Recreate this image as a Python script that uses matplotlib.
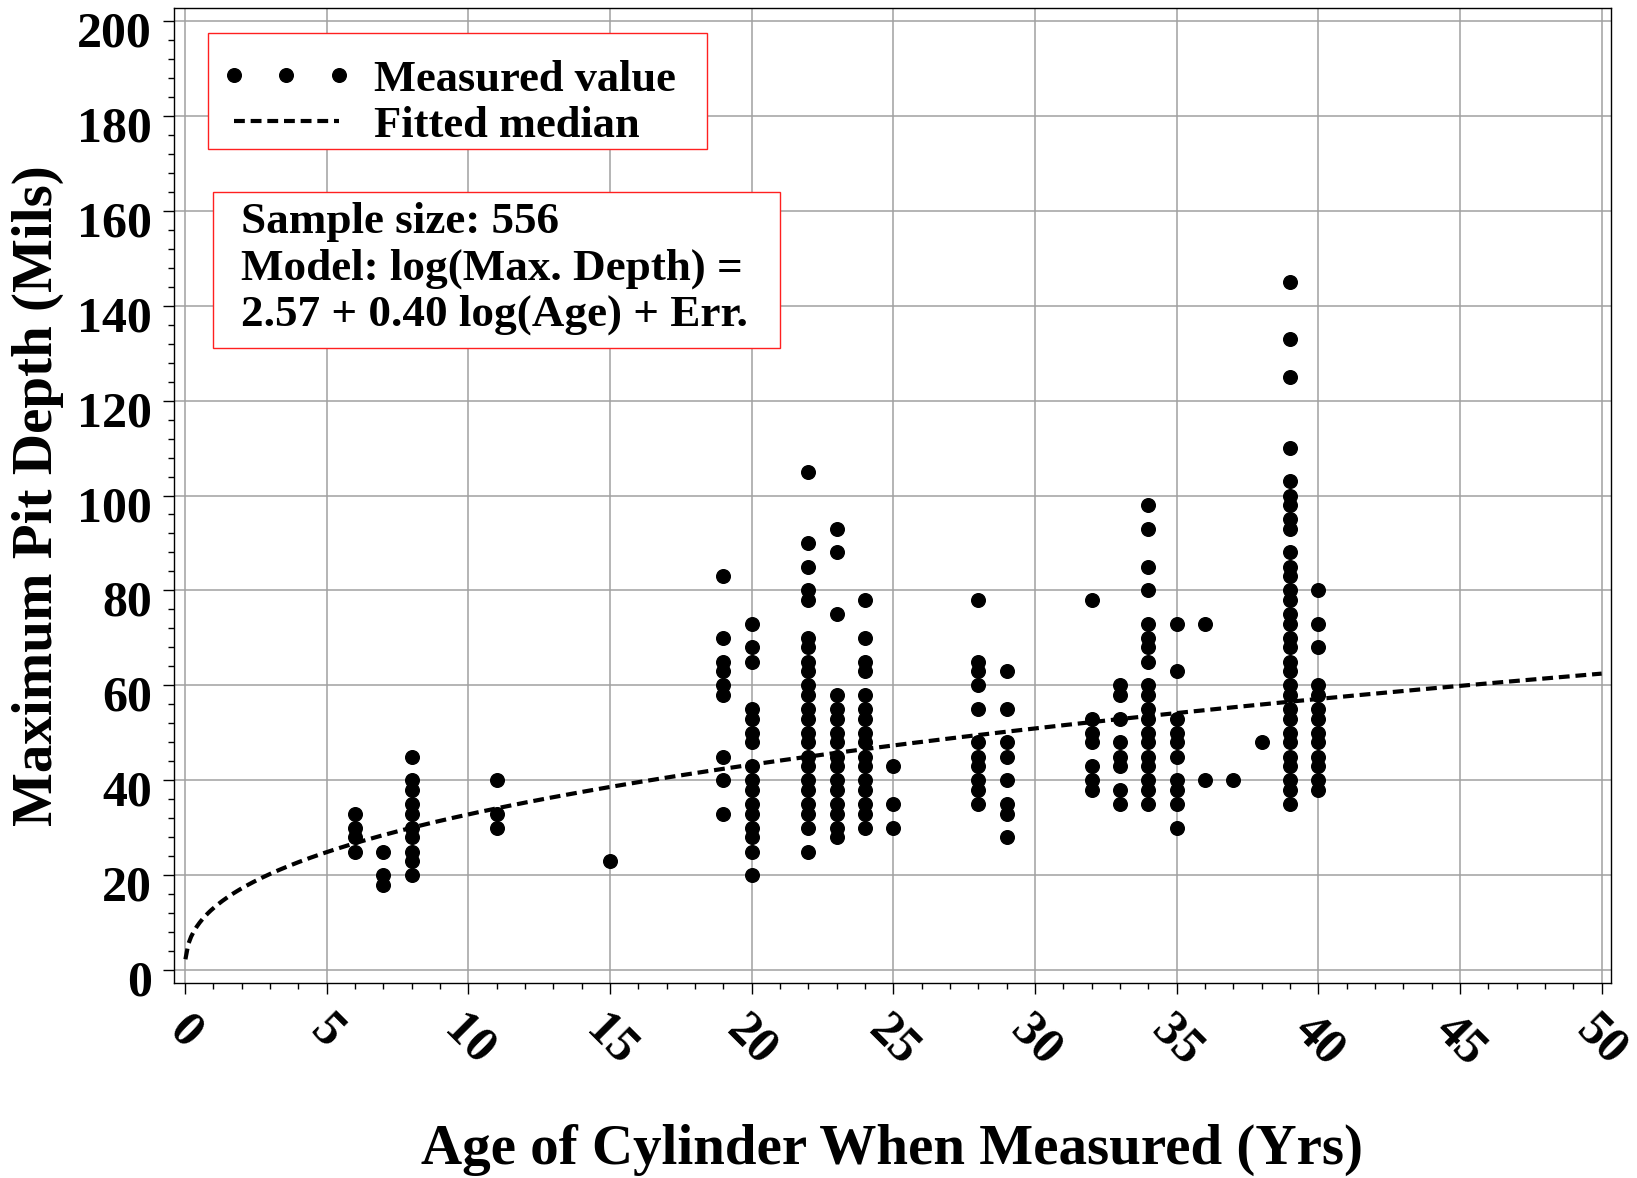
import numpy as np
import matplotlib
matplotlib.use("Agg")
import matplotlib.pyplot as plt
from matplotlib.patches import Rectangle
import matplotlib.transforms as mtrans

# Measured maximum pit depth (mils) for each cylinder age (years)
depths_by_age = {
    6: [33, 30, 28, 25],
    7: [25, 20, 18],
    8: [45, 40, 38, 35, 33, 30, 28, 25, 23, 20],
    11: [40, 33, 30],
    15: [23],
    19: [83, 70, 65, 63, 60, 58, 45, 40, 33],
    20: [73, 68, 65, 55, 53, 50, 48, 43, 40, 38, 35, 33, 30, 28, 25, 20],
    22: [105, 90, 85, 80, 78, 70, 68, 65, 63, 60, 58, 55, 53, 50, 48, 45, 43,
         40, 38, 35, 33, 30, 25],
    23: [93, 88, 75, 58, 55, 53, 50, 48, 45, 43, 40, 38, 35, 33, 30, 28],
    24: [78, 70, 65, 63, 58, 55, 53, 50, 48, 45, 43, 40, 38, 35, 33, 30],
    25: [43, 35, 30],
    28: [78, 65, 63, 60, 55, 48, 45, 43, 40, 38, 35],
    29: [63, 55, 48, 45, 40, 35, 33, 28],
    32: [78, 53, 50, 48, 43, 40, 38],
    33: [60, 58, 53, 48, 45, 43, 38, 35],
    34: [98, 93, 85, 80, 73, 70, 68, 65, 60, 58, 55, 53, 50, 48, 45, 43, 40,
         38, 35],
    35: [73, 63, 53, 50, 48, 45, 40, 38, 35, 30],
    36: [73, 40],
    37: [40],
    38: [48],
    39: [145, 133, 125, 110, 103, 100, 98, 95, 93, 88, 85, 83, 80, 78, 75, 73,
         70, 68, 65, 63, 60, 58, 55, 53, 50, 48, 45, 43, 40, 38, 35],
    40: [80, 73, 68, 60, 58, 55, 53, 50, 48, 45, 43, 40, 38],
}
age = [a for a, ds in depths_by_age.items() for _ in ds]
depth = [d for ds in depths_by_age.values() for d in ds]

# fitted model: log(depth) = 2.57 + 0.40 log(age)
intercept = 2.57
slope = 0.40
sample_size = 556

x_ticks = np.arange(0, 51, 5)
y_ticks = np.arange(0, 201, 20)

plt.rcParams['font.family'] = ['Liberation Serif', 'DejaVu Serif']
plt.rcParams['font.weight'] = 'bold'

W, H = 1637, 1178
fig = plt.figure(figsize=(W / 100, H / 100), dpi=100)
ax = fig.add_axes([174 / W, 1 - 983 / H, (1611 - 174) / W, (983 - 8) / H])

age_fit = np.linspace(0.013, 50, 500)
median_fit = np.exp(intercept + slope * np.log(age_fit))

pts, = ax.plot(age, depth, 'o', color='black', ms=9.8, ls='none',
               label='Measured value', zorder=3)
fit, = ax.plot(age_fit, median_fit, color='black', lw=3.0,
               ls=(0, (2.6, 1.4)), label='Fitted median', zorder=2)

ax.set_xlim(-0.39, 50.33)
ax.set_ylim(-2.7, 202.7)
ax.set_xticks(x_ticks)
ax.set_xticks(np.arange(0, 51, 1), minor=True)
ax.set_yticks(y_ticks)
ax.set_yticks(np.arange(0, 201, 4), minor=True)
ax.set_xticklabels([str(v) for v in x_ticks], rotation=-45, ha='center',
                   va='top')
ax.tick_params(axis='both', which='major', direction='out', length=8,
               width=1, labelsize=36)
ax.tick_params(axis='both', which='minor', direction='out', length=4.5,
               width=1)
ax.tick_params(axis='x', which='major', pad=9)
ax.tick_params(axis='y', which='major', pad=8)
ax.grid(True, which='major', color='#a0a0a0', lw=1.1)
ax.set_axisbelow(True)
for s in ax.spines.values():
    s.set_linewidth(1.0)

# y tick labels sit a little below their grid lines in the original
off = mtrans.ScaledTranslation(0, -8 / 100, fig.dpi_scale_trans)
for lab in ax.get_yticklabels():
    lab.set_transform(lab.get_transform() + off)

ax.set_xlabel('Age of Cylinder When Measured (Yrs)', fontsize=41,
              fontweight='bold')
ax.set_ylabel('Maximum Pit Depth (Mils)', fontsize=41, fontweight='bold')
ax.xaxis.set_label_coords(0.5, -0.171)
ax.xaxis.label.set_verticalalignment('center')
ax.yaxis.set_label_coords(-0.0946, 0.5)
ax.yaxis.label.set_verticalalignment('center')

# legend frame drawn separately so the red box matches the original size
fig.add_artist(Rectangle((208 / W, 1 - 149 / H), (707 - 208) / W,
                         (149 - 33) / H, transform=fig.transFigure,
                         facecolor='white', edgecolor='#ff2020', lw=1.0,
                         zorder=1))
leg = fig.legend(handles=[pts, fit], loc='upper left',
                 bbox_to_anchor=(203 / W, 1 - 42 / H),
                 bbox_transform=fig.transFigure, borderaxespad=0,
                 fontsize=32, numpoints=3, handlelength=2.95,
                 handletextpad=0.5, labelspacing=0.125, borderpad=0.4,
                 frameon=False)
leg.set_zorder(4)

# model annotation box
fig.add_artist(Rectangle((213 / W, 1 - 348 / H), (780 - 213) / W,
                         (348 - 192) / H, transform=fig.transFigure,
                         facecolor='white', edgecolor='#ff2020', lw=1.0,
                         zorder=1))
note = (f'Sample size: {sample_size}\n'
        'Model: log(Max. Depth) =\n'
        f'{intercept:.2f} + {slope:.2f} log(Age) + Err.')
fig.text(241 / W, 1 - 202 / H, note, fontsize=32.5, fontweight='bold',
         ha='left', va='top', linespacing=1.2, zorder=3)

fig.savefig('out.png', dpi=100)
